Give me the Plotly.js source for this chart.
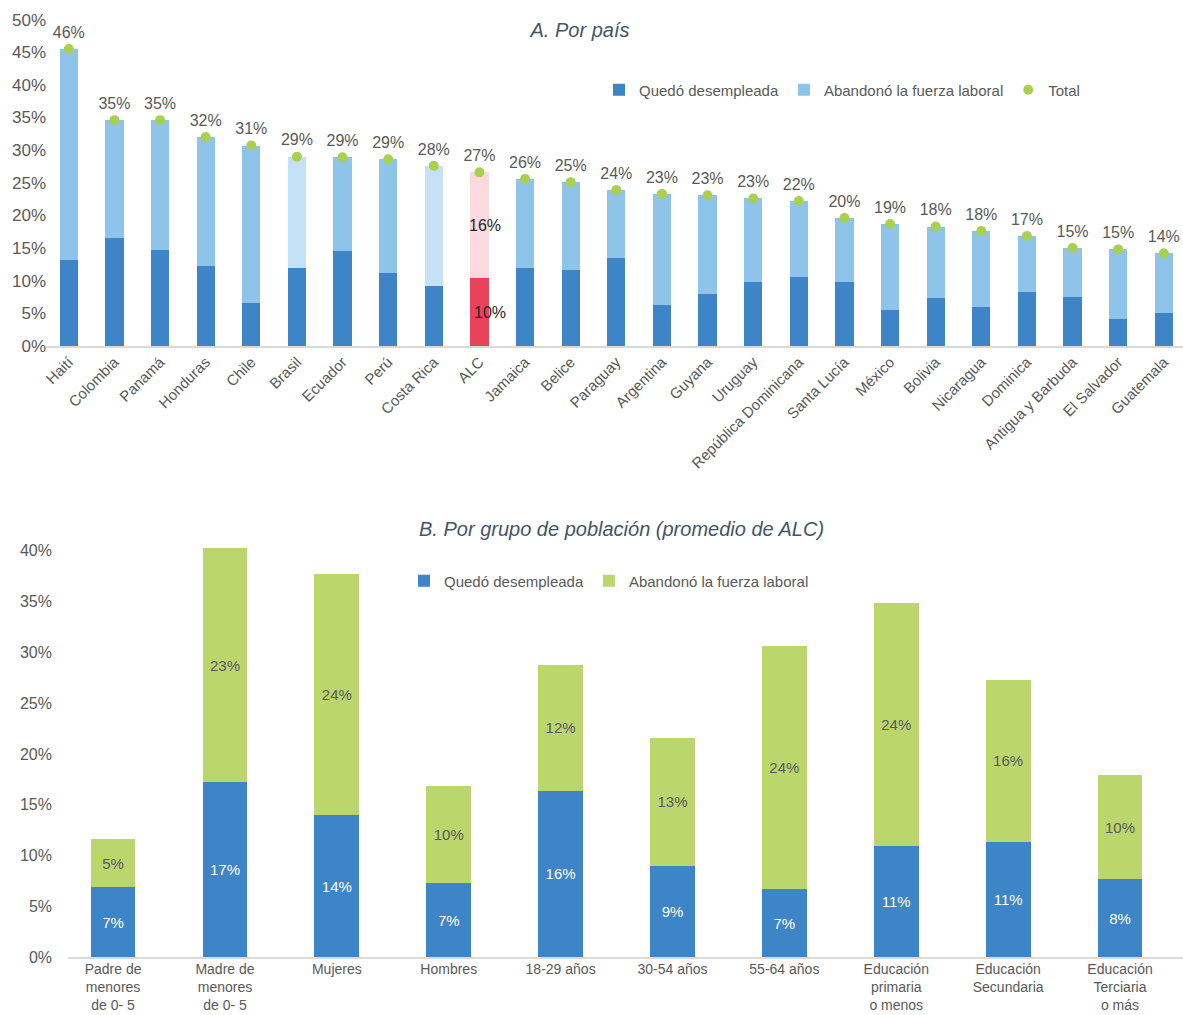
<!DOCTYPE html>
<html>
<head>
<meta charset="utf-8">
<script src="https://cdn.plot.ly/plotly-3.0.1.min.js"></script>
<style>html,body{margin:0;padding:0;background:#fff;}#chart{width:1183px;height:1015px;}</style>
</head>
<body>
<div id="chart"></div>
<script>
// ---------- Panel A: por país ----------
const paises = ["Haití","Colombia","Panamá","Honduras","Chile","Brasil","Ecuador","Perú","Costa Rica","ALC","Jamaica","Belice","Paraguay","Argentina","Guyana","Uruguay","República Dominicana","Santa Lucía","México","Bolivia","Nicaragua","Dominica","Antigua y Barbuda","El Salvador","Guatemala"];
const desempleadaA = [13.1,16.6,14.7,12.3,6.6,12.0,14.6,11.2,9.2,10.4,12.0,11.6,13.5,6.3,7.9,9.8,10.5,9.8,5.5,7.4,6.05,8.25,7.5,4.2,5.1];
const abandonoA    = [32.4,18.0,19.9,19.7,24.1,17.0,14.3,17.4,18.4,16.2,13.6,13.5,10.4,17.0,15.2,12.8,11.7,9.8,13.2,10.9,11.55,8.6,7.5,10.6,9.1];
const destacadosPalidos = ["Brasil","Costa Rica"];
const promedioRegional = "ALC";

// ---------- Panel B: por grupo de población ----------
const grupos = ["Padre de<br>menores<br>de 0- 5","Madre de<br>menores<br>de 0- 5","Mujeres","Hombres","18-29 años","30-54 años","55-64 años","Educación<br>primaria<br>o menos","Educación<br>Secundaria","Educación<br>Terciaria<br>o más"];
const desempleadaB = [6.9,17.2,14.0,7.3,16.4,9.0,6.7,10.95,11.35,7.7];
const abandonoB    = [4.7,23.1,23.7,9.6,12.4,12.6,23.9,23.95,15.95,10.2];

const yTicksA = [0,5,10,15,20,25,30,35,40,45,50];
const yTicksB = [0,5,10,15,20,25,30,35,40];

const FONT = "Liberation Sans, Arial, sans-serif";
const GRAY = "#595959";
const DARK = "#3d85c6", LIGHT = "#8ec3ea", PALE = "#c5e1f6", RED = "#e8435a", PINK = "#fcd9df", GREEN = "#bcd66e", DOT = "#a9d04e";

const totalA = paises.map((p,i)=> +(desempleadaA[i] + abandonoA[i]).toFixed(2));
const colDes = paises.map(p => p === promedioRegional ? RED : DARK);
const colAba = paises.map(p => p === promedioRegional ? PINK : (destacadosPalidos.includes(p) ? PALE : LIGHT));

const H = 1015, W = 1183;
const py = px => 1 - px / H;

const traces = [
  {type:'bar', x:paises, y:desempleadaA, name:'Quedó desempleada', marker:{color:colDes}, xaxis:'x', yaxis:'y', legend:'legend', hoverinfo:'x+y'},
  {type:'bar', x:paises, y:abandonoA, name:'Abandonó la fuerza laboral', marker:{color:colAba}, xaxis:'x', yaxis:'y', legend:'legend', hoverinfo:'x+y'},
  {type:'scatter', mode:'markers+text', x:paises, y:totalA, name:'Total', marker:{color:DOT, size:10},
   text: totalA.map(v => Math.round(v) + '%'), textposition:'top center',
   textfont:{family:FONT, size:16, color:GRAY}, cliponaxis:false, xaxis:'x', yaxis:'y', legend:'legend'},
  {type:'bar', x:grupos, y:desempleadaB, name:'Quedó desempleada', marker:{color:DARK}, xaxis:'x2', yaxis:'y2', legend:'legend2',
   texttemplate:'%{y:.0f}%', textposition:'inside', insidetextanchor:'middle', insidetextfont:{family:FONT, size:15, color:'#ffffff'}},
  {type:'bar', x:grupos, y:abandonoB, name:'Abandonó la fuerza laboral', marker:{color:GREEN}, xaxis:'x2', yaxis:'y2', legend:'legend2',
   texttemplate:'%{y:.0f}%', textposition:'inside', insidetextanchor:'middle', insidetextfont:{family:FONT, size:15, color:GRAY}}
];

const iALC = paises.indexOf(promedioRegional);
const annotations = [
  {xref:'x', yref:'y', x:promedioRegional, y:desempleadaA[iALC] + abandonoA[iALC]/2, text: Math.round(abandonoA[iALC]) + '%', showarrow:false, xshift:6, font:{family:FONT, size:16, color:'#262626'}},
  {xref:'x', yref:'y', x:promedioRegional, y:desempleadaA[iALC]/2, text: Math.round(desempleadaA[iALC]) + '%', showarrow:false, xshift:11, font:{family:FONT, size:16, color:'#262626'}},
  {xref:'paper', yref:'paper', x:621/W, y:py(529), text:'<i>B. Por grupo de población (promedio de ALC)</i>', showarrow:false, xanchor:'center', yanchor:'middle', font:{family:FONT, size:20, color:'#44546a'}}
];

const layout = {
  width:W, height:H,
  margin:{l:0, r:0, t:0, b:0},
  paper_bgcolor:'#ffffff', plot_bgcolor:'#ffffff',
  barmode:'stack', bargap:0.6,
  font:{family:FONT, color:GRAY},
  title:{text:'<i>A. Por país</i>', x:580/W, xanchor:'center', y:py(30), yanchor:'middle', font:{family:FONT, size:20, color:'#44546a'}},
  xaxis:{domain:[46/W,1], anchor:'y', type:'category', range:[-0.5,24.42], tickangle:-45, tickfont:{family:FONT, size:15, color:GRAY},
         showline:true, linecolor:'#d9d9d9', linewidth:1.5, ticks:'', showgrid:false, zeroline:false, fixedrange:true},
  yaxis:{domain:[py(346), py(19.6)], anchor:'x', range:[0,50], tickvals:yTicksA, ticktext:yTicksA.map(v=>v+'%'),
         tickfont:{family:FONT, size:17, color:GRAY}, showgrid:false, zeroline:false, showline:false, ticks:'', ticklabelstandoff:-1},
  xaxis2:{domain:[68/W,1], anchor:'y2', type:'category', range:[-0.403,9.563], tickfont:{family:FONT, size:14, color:GRAY},
          showline:true, linecolor:'#d9d9d9', linewidth:1.5, ticks:'', showgrid:false, zeroline:false, ticklabelstandoff:-2},
  yaxis2:{domain:[py(957.3), py(540.5)], anchor:'x2', range:[0,41], tickvals:yTicksB, ticktext:yTicksB.map(v=>v+'%'),
          tickfont:{family:FONT, size:16, color:GRAY}, showgrid:false, zeroline:false, showline:false, ticks:'', ticklabelstandoff:15},
  legend:{orientation:'h', x:599/W, xanchor:'left', y:py(90), yanchor:'middle', font:{family:FONT, size:15, color:GRAY}, bgcolor:'rgba(0,0,0,0)', itemwidth:30, traceorder:'normal'},
  legend2:{orientation:'h', x:404/W, xanchor:'left', y:py(581), yanchor:'middle', font:{family:FONT, size:15, color:GRAY}, bgcolor:'rgba(0,0,0,0)', itemwidth:30, traceorder:'normal'},
  annotations: annotations,
  showlegend:true
};

Plotly.newPlot('chart', traces, layout, {displayModeBar:false, staticPlot:true});
</script>
</body>
</html>
